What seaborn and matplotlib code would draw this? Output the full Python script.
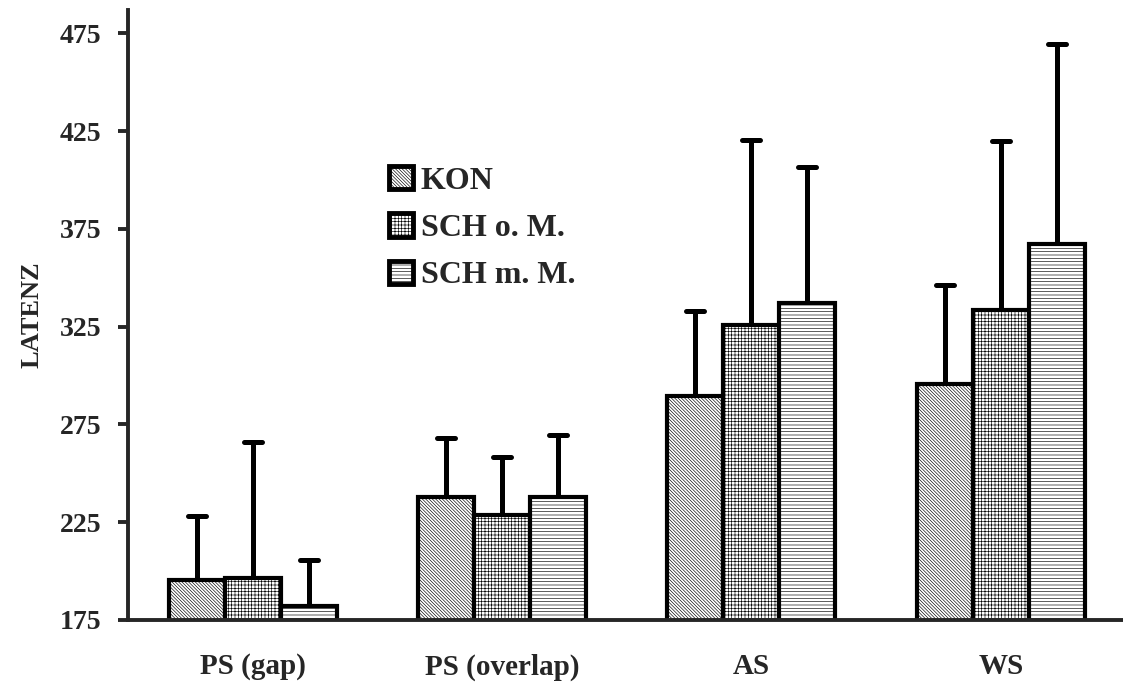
import pandas as pd
import numpy as np
import seaborn as sns
import matplotlib.pyplot as plt
from matplotlib.patches import Patch
from matplotlib.markers import MarkerStyle

categories = ['PS (gap)', 'PS (overlap)', 'AS', 'WS']
groups = ['KON', 'SCH o. M.', 'SCH m. M.']
kon = [195.4, 237.7, 289.3, 295.6]
sch_om = [196.6, 228.7, 325.8, 333.4]
sch_mm = [182.2, 237.7, 337.2, 367.2]
kon_err = [32.8, 30.3, 43.6, 50.6]
sch_om_err = [69.5, 29.6, 94.5, 86.4]
sch_mm_err = [23.5, 31.8, 69.3, 102.2]

sns.set_style('white')
plt.rcParams['font.family'] = ['Liberation Serif', 'DejaVu Serif']
plt.rcParams['font.weight'] = 'bold'
plt.rcParams['hatch.linewidth'] = 0.45

df = pd.DataFrame({
    'cat': categories * 3,
    'group': [g for g in groups for _ in categories],
    'val': kon + sch_om + sch_mm,
})
errs = [kon_err, sch_om_err, sch_mm_err]
hatches = ['\\\\\\\\\\\\\\\\\\\\', '+++++', '-----']

fig = plt.figure(figsize=(11.23, 6.84), dpi=100)
ax = fig.add_axes([0.114, 0.0936, 0.886, 0.8914])

sns.barplot(data=df, x='cat', y='val', hue='group', order=categories,
            hue_order=groups, errorbar=None, width=0.674, gap=0,
            palette=['white'] * 3, edgecolor='black', linewidth=3,
            legend=False, ax=ax)

round_cap = MarkerStyle('_', capstyle='round')
for cont, h, e in zip(ax.containers, hatches, errs):
    xs, ys = [], []
    for bar in cont:
        bar.set_hatch(h)
        bar.set_facecolor('white')
        bar.set_edgecolor('black')
        bar.set_zorder(2)
        xs.append(bar.get_x() + bar.get_width() / 2)
        ys.append(bar.get_height())
    _, caps, _ = ax.errorbar(xs, ys, yerr=[np.zeros(len(e)), e], fmt='none',
                             ecolor='black', elinewidth=3.6, capsize=6.5,
                             capthick=3.6, zorder=1)
    for c in caps:
        c.set_marker(round_cap)

ax.set_ylim(175, 486.8)
ax.set_xlim(-0.5, 3.49)
ax.set_yticks([175, 225, 275, 325, 375, 425, 475])
ax.set_xlabel('')
ax.set_ylabel('LATENZ', fontsize=19, fontweight='bold', labelpad=12)
sns.despine(ax=ax)
for s in ['left', 'bottom']:
    ax.spines[s].set_linewidth(2.8)
ax.tick_params(axis='y', direction='out', length=7, width=2.8, left=True,
               labelsize=20, pad=12)
ax.tick_params(axis='x', length=0, labelsize=21, pad=24)
for lbl in ax.get_xticklabels() + ax.get_yticklabels():
    lbl.set_fontweight('bold')

handles = [Patch(facecolor='white', edgecolor='black', linewidth=3.5, hatch=h, label=g)
           for g, h in zip(groups, hatches)]
ax.legend(handles=handles, loc='upper left', bbox_to_anchor=(0.233, 0.792),
          frameon=False, handlelength=0.75, handleheight=0.75, handletextpad=0.25,
          labelspacing=0.55, prop={'size': 23, 'weight': 'bold'})

fig.savefig('out.png', dpi=100)
